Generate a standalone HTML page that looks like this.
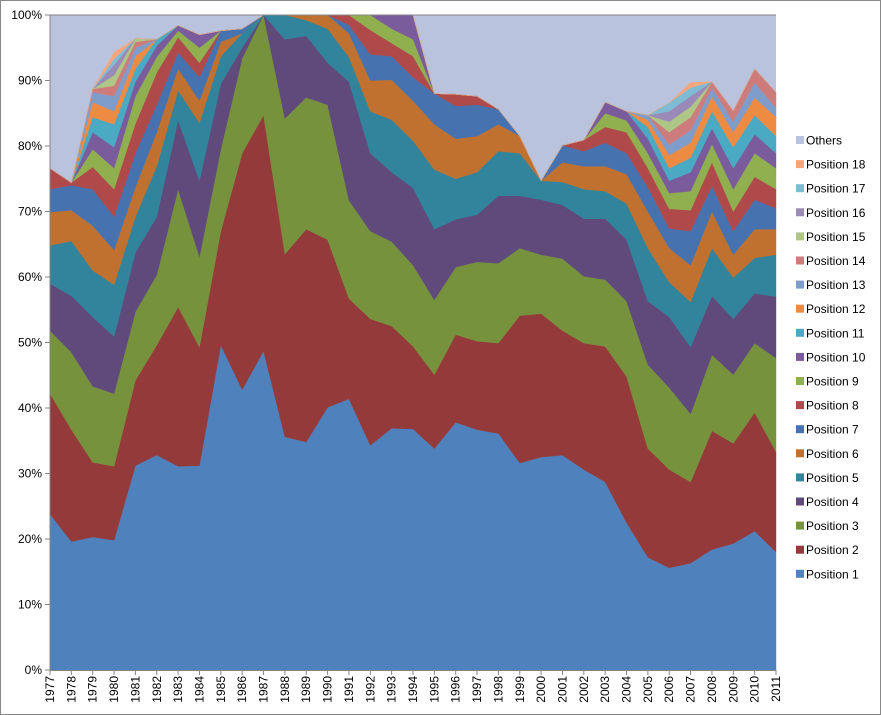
<!DOCTYPE html>
<html><head><meta charset="utf-8">
<style>
html,body{margin:0;padding:0;background:#fff;}
svg{display:block;font-family:"Liberation Sans",Arial,sans-serif;}
</style></head>
<body>
<svg id="chart" width="881" height="715" viewBox="0 0 881 715" xmlns="http://www.w3.org/2000/svg">
<rect x="0.5" y="0.5" width="880" height="714" fill="#fff" stroke="#888"/>
<g id="plot"></g>
<g id="axes"></g>
<g id="legend"></g>
</svg>
<script>
const years = [1977,1978,1979,1980,1981,1982,1983,1984,1985,1986,1987,1988,1989,1990,1991,1992,1993,1994,1995,1996,1997,1998,1999,2000,2001,2002,2003,2004,2005,2006,2007,2008,2009,2010,2011];
const yTicks = ["0%","10%","20%","30%","40%","50%","60%","70%","80%","90%","100%"];
const seriesNames = ["Position 1","Position 2","Position 3","Position 4","Position 5","Position 6","Position 7","Position 8","Position 9","Position 10","Position 11","Position 12","Position 13","Position 14","Position 15","Position 16","Position 17","Position 18"];
const p1 = [23.8,19.6,20.3,19.8,31.2,32.8,31.1,31.2,49.6,42.8,48.7,35.6,34.8,40.1,41.4,34.3,36.9,36.8,33.8,37.8,36.7,36.1,31.6,32.5,32.8,30.6,28.7,22.5,17.2,15.6,16.3,18.4,19.3,21.2,18];
const p2 = [18.4,17.1,11.4,11.3,13,16.8,24.3,18.1,17.4,36.1,36,27.9,32.5,25.6,15.3,19.3,15.6,12.6,11.3,13.4,13.5,13.8,22.5,21.9,19,19.3,20.7,22.3,16.6,15,12.4,18.1,15.3,18.1,15.3];
const p3 = [9.6,11.8,11.6,11.1,10.5,10.7,18,13.8,12.5,14.5,15.3,20.7,20.1,20.6,15,13.4,12.9,12.4,11.4,10.3,12.1,12.2,10.3,9,11,10.2,10.2,11.5,12.8,12.5,10.4,11.6,10.5,10.6,14.3];
const p4 = [7.2,8.6,10.6,8.7,9,8.9,10.5,11.6,10,1.6,0,12.1,9.4,6.4,18.1,11.9,10.6,11.8,10.8,7.3,7.2,10.3,8,8.4,8.2,8.8,9.3,9.4,9.7,10.8,10.2,9,8.5,7.6,9.4];
const p5 = [5.8,8.4,7.1,7.9,5.5,7.7,4.6,8.8,4.2,2.2,0,3.7,2.4,5.2,3.8,6.4,8,7.2,9.1,6.2,6.5,6.8,6.5,2.9,3.5,4.5,4.2,5.5,8.1,5.3,6.9,7.3,6.3,5.4,6.4];
const p6 = [5.1,4.7,6.8,5.3,4.5,5.2,3.3,3.4,2.2,0,0,0,0.8,2.1,3.6,4.7,6.1,6.1,6.9,6.1,5.5,4.1,2.6,0,3,3.5,3.8,4.5,5.6,5.2,5.6,5.6,3.5,4.4,3.9];
const p7 = [3.5,3.8,5.6,5.1,5.2,4.2,2.5,3.6,1.7,0.7,0,0,0,0,1.3,4,3.6,3.6,4.7,5,4.8,2.3,0,0,2.6,2.3,3.6,3.2,3.7,3,5.2,3.9,3.6,4.5,3.2];
const p8 = [3.2,0.4,3.4,4.2,4.5,4.9,2.3,2.2,0,0,0,0,0,0,1.5,3.7,2,3.2,0,1.8,1.3,0,0,0,0,1.7,2.4,3.2,2.9,3,3.2,3.6,3,3.5,2.9];
const p9 = [0,0,2.7,3.2,4.2,2.4,1,2.3,0,0,0,0,0,0,0,2.3,2.2,2.6,0,0,0,0,0,0,0,0,2.1,1.8,2.3,2.4,2.9,2.8,3.4,3.6,3.2];
const p10 = [0,0,2.6,3.2,2.2,1.7,0.8,2,0,0,0,0,0,0,0,0,2.1,3.7,0,0,0,0,0,0,0,0,1.7,1.4,2.2,1.9,2.9,2.4,3.2,2.9,2.3];
const p11 = [0,0,2.3,3.5,2,1,0,0,0,0,0,0,0,0,0,0,0,0,0,0,0,0,0,0,0,0,0,0,1.8,1.9,2.2,2.6,3.2,2.9,2.6];
const p12 = [0,0,2.3,2,1.9,0,0,0,0,0,0,0,0,0,0,0,0,0,0,0,0,0,0,0,0,0,0,0,1.1,2,2.3,2.3,2.3,2.7,2.9];
const p13 = [0,0,1.5,2.3,1.3,0,0,0,0,0,0,0,0,0,0,0,0,0,0,0,0,0,0,0,0,0,0,0,0.7,1.6,1.9,1.3,1.6,2.3,1.4];
const p14 = [0,0,0.5,1.6,0.9,0,0,0,0,0,0,0,0,0,0,0,0,0,0,0,0,0,0,0,0,0,0,0,0,1.9,2,0.9,1.7,2.1,2.4];
const p15 = [0,0,0,1.6,0.5,0,0,0,0,0,0,0,0,0,0,0,0,0,0,0,0,0,0,0,0,0,0,0,0,1.6,1.6,0,0,0,0];
const p16 = [0,0,0,1.6,0,0,0,0,0,0,0,0,0,0,0,0,0,0,0,0,0,0,0,0,0,0,0,0,0,1.6,1.6,0,0,0,0];
const p17 = [0,0,0,0.9,0,0,0,0,0,0,0,0,0,0,0,0,0,0,0,0,0,0,0,0,0,0,0,0,0,1.3,1.3,0,0,0,0];
const p18 = [0,0,0,1.0,0,0,0,0,0,0,0,0,0,0,0,0,0,0,0,0,0,0,0,0,0,0,0,0,0,0,0.8,0,0,0,0];

const colors = ["#4F81BD","#953A3A","#77923C","#604A7B","#31849B","#C0712F","#4673AF","#B0494A","#90AF4F","#7A5C9D","#4AA9C3","#EE8B43","#7F9DCB","#CE7C7B","#AFC786","#9B8AB8","#7DBCD2","#F7A67B"];
const othersColor = "#B9C3DD";
const NS = "http://www.w3.org/2000/svg";
const X0 = 50, X1 = 776, Y0 = 670, Y1 = 15;
const xScale = i => X0 + (X1 - X0) * i / (years.length - 1);
const yScale = v => Y0 - (Y0 - Y1) * v / 100;

const allSeries = [p1,p2,p3,p4,p5,p6,p7,p8,p9,p10,p11,p12,p13,p14,p15,p16,p17,p18];
const plot = document.getElementById('plot');
const axes = document.getElementById('axes');
const legend = document.getElementById('legend');

function mk(tag, attrs, parent) {
  const el = document.createElementNS(NS, tag);
  for (const k in attrs) el.setAttribute(k, attrs[k]);
  parent.appendChild(el);
  return el;
}

// background (others) area
const bg = mk('rect', {x:X0, y:Y1, width:X1-X0, height:Y0-Y1, fill:othersColor}, plot);



let base = years.map(() => 0);
allSeries.forEach((s, k) => {
  const top = base.map((b, i) => Math.min(100, b + s[i]));
  let d = '';
  top.forEach((t, i) => { d += (i ? 'L' : 'M') + xScale(i).toFixed(2) + ' ' + yScale(t).toFixed(2) + ' '; });
  for (let i = years.length - 1; i >= 0; i--) d += 'L' + xScale(i).toFixed(2) + ' ' + yScale(base[i]).toFixed(2) + ' ';
  d += 'Z';
  const p = mk('path', {d:d, fill:colors[k], stroke:colors[k], 'stroke-width':0.4}, plot);
  
  
  base = top;
});

// axes lines
const ya = mk('line', {x1:X0, y1:Y1, x2:X0, y2:Y0, stroke:'#868686'}, axes);


const xa = mk('line', {x1:X0, y1:Y0+0.5, x2:X1, y2:Y0+0.5, stroke:'#868686'}, axes);


const topLine = mk('line', {x1:X0, y1:Y1, x2:X1, y2:Y1, stroke:'#868686'}, axes);



yTicks.forEach((t, i) => {
  const y = yScale(i * 10);
  mk('line', {x1:X0-5, y1:y, x2:X0, y2:y, stroke:'#868686'}, axes);
  const tx = mk('text', {x:X0-8, y:y+4, 'text-anchor':'end', 'font-size':12, fill:'#000'}, axes);
  tx.textContent = t;
  
  
});
years.forEach((yr, i) => {
  const x = xScale(i);
  mk('line', {x1:x, y1:Y0, x2:x, y2:Y0+5, stroke:'#868686'}, axes);
  const tx = mk('text', {x:0, y:0, 'text-anchor':'end', 'font-size':12, fill:'#000', transform:'translate(' + (x+4) + ',' + (Y0+6) + ') rotate(-90)'}, axes);
  tx.textContent = yr;
  
  
});

// legend
const legNames = ["Others"].concat(seriesNames.slice().reverse());
const legColors = [othersColor].concat(colors.slice().reverse());
legNames.forEach((n, i) => {
  const y = 140 + i * 24.1;
  const g = mk('g', {}, legend);
  
  
  mk('rect', {x:796, y:y-4, width:8, height:8, fill:legColors[i]}, g);
  const t = mk('text', {x:806, y:y+4.5, 'font-size':12, fill:'#000'}, g);
  t.textContent = n;
});
</script>
</body></html>
